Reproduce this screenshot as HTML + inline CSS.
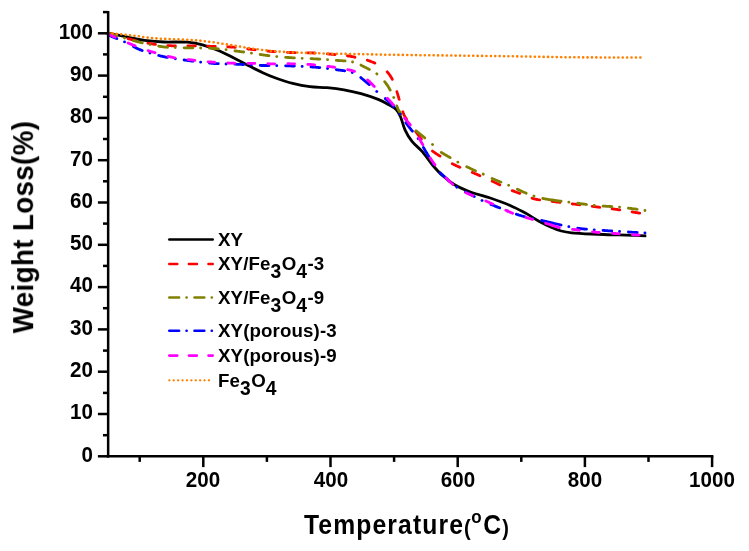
<!DOCTYPE html><html><head><meta charset="utf-8"><title>TGA</title><style>
html,body{margin:0;padding:0;background:#fff;}
body{width:749px;height:551px;position:relative;overflow:hidden;filter:blur(0.45px);font-family:"Liberation Sans",sans-serif;font-weight:bold;color:#000;}
.t{position:absolute;white-space:nowrap;line-height:1;will-change:transform;}
.yl{font-size:20.6px;text-align:right;width:60px;transform:scaleY(1.10);transform-origin:100% 50%;}
.xl{font-size:20.6px;text-align:center;width:80px;transform:scaleY(1.09);transform-origin:50% 50%;}
.lg{font-size:18.7px;letter-spacing:0.12px;}
.lg .sm{}
.lg sub{font-size:19.3px;vertical-align:baseline;position:relative;top:8.3px;letter-spacing:0.4px;}
</style></head><body>
<svg width="749" height="551" viewBox="0 0 749 551" style="position:absolute;left:0;top:0">
<rect width="749" height="551" fill="#fff"/>
<path d="M108.0 33.2C111.7 33.9 123.5 36.2 130.0 37.5C136.5 38.8 141.3 40.0 147.0 40.7C152.7 41.5 157.2 41.8 164.0 42.0C170.8 42.2 181.2 41.7 187.6 42.2C194.0 42.7 197.2 43.4 202.5 44.9C207.8 46.4 213.9 48.6 219.6 51.0C225.3 53.4 231.6 57.0 236.7 59.5C241.8 62.0 245.7 64.1 250.0 66.3C254.3 68.5 258.5 70.8 262.8 72.7C267.1 74.7 270.6 76.2 275.6 78.0C280.6 79.8 287.0 82.0 292.7 83.4C298.4 84.8 304.1 85.9 309.8 86.6C315.5 87.3 321.3 87.2 327.0 87.7C332.7 88.2 338.3 88.8 344.0 89.8C349.7 90.8 355.3 92.1 361.0 93.7C366.7 95.3 373.5 97.6 378.2 99.4C382.9 101.2 386.0 103.1 389.0 104.8C392.0 106.5 394.1 107.4 396.0 109.4C397.9 111.4 399.0 113.3 400.5 116.7C402.0 120.1 403.1 125.7 405.0 129.8C406.9 133.9 409.1 137.8 412.0 141.4C414.9 145.0 418.9 147.7 422.3 151.6C425.7 155.5 429.1 161.0 432.5 165.0C435.9 169.0 438.9 172.5 442.7 175.8C446.4 179.1 450.2 182.2 455.0 185.0C459.8 187.8 465.8 190.3 471.7 192.5C477.6 194.7 483.8 195.8 490.3 198.0C496.8 200.2 504.7 203.1 510.6 205.7C516.5 208.2 521.1 210.8 525.8 213.3C530.4 215.8 534.3 218.6 538.5 220.9C542.7 223.2 547.4 225.5 551.2 227.2C555.0 228.9 557.9 230.1 561.3 231.0C564.7 231.9 566.4 232.3 571.5 232.8C576.6 233.3 585.0 233.7 591.8 234.0C598.5 234.3 605.2 234.6 612.0 234.8C618.8 235.0 626.7 235.1 632.4 235.3C638.1 235.5 644.0 235.7 646.3 235.8" fill="none" stroke="#000000" stroke-width="2.8" stroke-linejoin="round"/>
<path d="M108.0 33.0L108.7 33.2L109.3 33.4L110.0 33.6L110.7 33.8L111.3 34.0L112.0 34.1L112.7 34.3L113.4 34.5L114.1 34.8L114.8 35.0L115.6 35.2L115.6 35.2M128.0 38.7L128.5 38.8L129.3 39.0L130.1 39.2L130.8 39.4L131.5 39.6L132.3 39.8L133.0 40.0L133.8 40.1L134.6 40.3L135.4 40.5L135.6 40.6M147.9 43.2L148.7 43.3L149.4 43.4L150.1 43.6L150.8 43.7L151.5 43.8L152.2 43.9L152.9 44.0L153.7 44.1L154.4 44.3L155.2 44.4L155.5 44.4M167.8 45.6L168.6 45.6L169.4 45.6L170.1 45.7L170.9 45.7L171.6 45.8L172.4 45.8L173.1 45.8L173.9 45.8L174.6 45.9L175.4 45.9L175.4 45.9M187.8 45.8L188.4 45.8L189.2 45.8L189.9 45.8L190.7 45.8L191.4 45.8L192.2 45.8L192.9 45.8L193.7 45.8L194.4 45.8L195.1 45.9L195.4 45.9M207.8 46.2L208.4 46.2L209.2 46.2L209.9 46.3L210.7 46.3L211.5 46.3L212.2 46.3L212.9 46.4L213.7 46.4L214.4 46.4L215.2 46.4L215.3 46.4M227.7 46.8L228.5 46.9L229.2 46.9L229.9 46.9L230.6 47.0L231.3 47.0L232.0 47.1L232.8 47.1L233.6 47.2L234.4 47.3L235.2 47.3L235.3 47.3M247.7 48.9L248.4 49.0L249.2 49.1L250.0 49.2L250.7 49.3L251.4 49.4L252.1 49.4L252.8 49.5L253.5 49.6L254.2 49.7L255.0 49.8L255.2 49.8M267.6 51.1L268.4 51.1L269.1 51.2L269.9 51.3L270.7 51.3L271.4 51.4L272.2 51.5L272.9 51.5L273.7 51.6L274.4 51.6L275.2 51.7L275.2 51.7M287.5 52.4L288.2 52.4L288.9 52.4L289.7 52.5L290.4 52.5L291.2 52.5L291.9 52.6L292.7 52.6L293.5 52.6L294.2 52.6L295.0 52.7L295.1 52.7M307.5 52.8L308.2 52.8L309.0 52.8L309.7 52.9L310.5 52.9L311.2 52.9L312.0 52.9L312.7 52.9L313.5 53.0L314.2 53.0L315.0 53.0L315.1 53.1M327.4 53.9L328.1 53.9L328.8 54.0L329.6 54.1L330.3 54.1L331.0 54.2L331.8 54.3L332.5 54.3L333.2 54.4L333.9 54.4L334.6 54.5L335.0 54.6M347.4 55.9L348.2 56.0L348.9 56.1L349.6 56.2L350.4 56.3L351.1 56.4L351.8 56.6L352.6 56.7L353.3 56.8L354.1 57.0L354.8 57.1L355.0 57.2M367.3 60.2L367.9 60.4L368.6 60.6L369.3 60.8L370.0 61.1L370.7 61.4L371.5 61.7L372.3 62.0L373.0 62.3L373.7 62.6L374.4 62.9L374.9 63.1M387.2 71.8L387.6 72.3L388.1 72.9L388.6 73.5L389.0 74.1L389.5 74.7L389.9 75.3L390.3 75.9L390.7 76.6L391.1 77.2L391.5 77.8L391.9 78.5L392.2 79.1L392.3 79.4M396.9 91.7L397.1 92.4L397.4 93.2L397.6 93.9L397.8 94.6L398.0 95.4L398.2 96.1L398.5 96.9L398.7 97.6L398.9 98.3L399.1 99.1L399.2 99.3M402.8 111.7L403.1 112.5L403.4 113.2L403.7 113.9L404.0 114.7L404.3 115.4L404.7 116.2L405.1 116.9L405.4 117.5L405.8 118.0L406.1 118.6L406.5 119.2L406.6 119.3M415.7 131.6L416.2 132.3L416.7 132.9L417.1 133.5L417.6 134.2L418.1 134.8L418.5 135.4L419.0 136.0L419.4 136.7L419.9 137.3L420.4 137.9L420.8 138.5L421.3 139.2L421.4 139.2M432.4 151.0L432.9 151.4L433.5 151.8L434.1 152.2L434.7 152.7L435.3 153.1L435.9 153.5L436.5 153.9L437.2 154.3L437.8 154.7L438.5 155.1L439.1 155.6L439.8 156.0L440.0 156.1M452.3 163.7L452.9 164.0L453.6 164.4L454.3 164.7L455.0 165.0L455.6 165.4L456.3 165.7L456.9 166.0L457.6 166.3L458.3 166.6L458.9 166.8L459.6 167.1L459.9 167.3M472.3 172.4L473.0 172.7L473.6 173.0L474.3 173.3L475.0 173.6L475.7 173.8L476.3 174.1L477.0 174.4L477.7 174.7L478.4 175.1L479.2 175.4L479.9 175.7L479.9 175.7M492.2 181.2L492.8 181.5L493.5 181.8L494.3 182.1L495.0 182.5L495.7 182.8L496.4 183.2L497.1 183.5L497.8 183.9L498.5 184.2L499.2 184.6L499.8 184.9M512.2 190.6L512.8 190.8L513.6 191.1L514.4 191.4L515.1 191.7L515.9 192.0L516.6 192.3L517.4 192.5L518.1 192.8L518.8 193.1L519.5 193.3L519.8 193.4M532.1 198.2L532.8 198.5L533.6 198.7L534.4 198.9L535.0 199.1L535.7 199.2L536.4 199.4L537.0 199.5L537.6 199.6L538.2 199.7L538.9 199.8L539.6 199.9L539.7 199.9M552.1 201.4L552.3 201.4M552.3 201.4L552.9 201.5L553.7 201.6L554.5 201.7L555.3 201.8L556.0 201.9L556.8 202.0L557.5 202.1L558.3 202.2L559.0 202.2L559.8 202.3L559.9 202.4M572.2 203.9L573.0 204.0L573.8 204.1L574.5 204.2L575.3 204.2L576.0 204.3L576.8 204.4L577.5 204.5L578.3 204.6L579.0 204.7L579.8 204.8L579.8 204.8M592.2 206.3L593.0 206.4L593.8 206.5L594.5 206.6L595.3 206.7L596.0 206.8L596.8 206.9L597.5 207.0L598.3 207.1L599.0 207.2L599.8 207.3L599.8 207.3M612.1 208.8L612.7 208.9L613.5 209.0L614.2 209.1L615.0 209.2L615.7 209.3L616.5 209.4L617.2 209.5L618.0 209.6L618.8 209.8L619.6 209.9L619.8 209.9M632.1 211.9L632.9 212.0L633.6 212.2L634.3 212.3L634.9 212.4L635.6 212.5L636.3 212.6L637.1 212.7L637.9 212.9L638.8 213.0L639.6 213.2L639.7 213.2" fill="none" stroke="#ff0000" stroke-width="2.8" stroke-linejoin="round" stroke-linecap="round"/>
<path d="M108.0 33.0L108.7 33.2L109.2 33.4L109.9 33.6L110.6 33.8L111.4 34.0L112.0 34.2L112.6 34.4L113.3 34.6L113.9 34.8L114.6 35.0L115.4 35.3L116.1 35.5L116.8 35.7M124.5 38.1L124.6 38.1M133.4 40.6L134.2 40.8L134.9 41.0L135.6 41.2L136.3 41.4L137.1 41.6L137.9 41.8L138.6 42.0L139.4 42.2L140.2 42.4L140.9 42.6L141.7 42.7L142.2 42.9M149.9 44.6L150.0 44.6M158.7 46.2L159.4 46.3L160.1 46.4L160.8 46.5L161.5 46.6L162.3 46.7L163.0 46.8L163.8 46.9L164.6 47.0L165.3 47.1L166.1 47.1L166.8 47.2L167.5 47.3M175.2 47.6L175.3 47.6M184.1 47.8L185.0 47.8L185.7 47.8L186.4 47.8L187.1 47.8L187.9 47.9L188.6 47.9L189.3 47.9L190.1 47.9L190.8 47.9L191.6 47.9L192.3 47.9L192.9 47.9M200.6 48.0L200.7 48.0M209.5 48.2L210.2 48.2L211.0 48.3L211.7 48.3L212.5 48.4L213.2 48.4L214.0 48.5L214.8 48.5L215.6 48.6L216.4 48.6L217.2 48.7L218.0 48.8L218.3 48.8M226.0 49.7L226.1 49.7M234.9 50.9L235.5 51.0L236.2 51.0L236.8 51.1L237.4 51.2L238.2 51.3L238.9 51.4L239.7 51.5L240.4 51.6L241.1 51.7L241.9 51.8L242.7 51.9L243.4 52.0L243.7 52.0M251.4 53.2L251.5 53.2M260.2 54.5L260.9 54.6L261.7 54.7L262.5 54.8L263.3 54.9L264.1 55.1L264.9 55.2L265.7 55.3L266.5 55.4L267.3 55.5L268.1 55.6L268.9 55.7L269.0 55.7M276.7 56.6L276.8 56.6M285.6 57.3L286.4 57.4L287.2 57.4L287.9 57.5L288.7 57.5L289.4 57.6L290.2 57.6L290.9 57.7L291.7 57.7L292.4 57.8L293.2 57.8L294.0 57.9L294.4 57.9M302.1 58.3L302.2 58.3M311.0 58.6L311.7 58.7L312.5 58.7L313.2 58.8L314.0 58.8L314.7 58.8L315.5 58.9L316.3 58.9L317.0 59.0L317.8 59.0L318.6 59.1L319.3 59.1L319.8 59.2M327.5 59.7L327.6 59.7M336.3 60.4L337.2 60.4L338.0 60.5L338.8 60.5L339.6 60.6L340.5 60.6L341.2 60.7L342.0 60.7L342.8 60.8L343.6 60.8L344.3 60.9L345.1 60.9L345.1 60.9M352.5 62.0L352.6 62.0M361.0 65.1L361.6 65.5L362.2 65.8L362.9 66.1L363.6 66.5L364.3 66.8L364.9 67.2L365.6 67.5L366.3 67.8L366.9 68.2L367.6 68.5L368.3 68.9L369.0 69.2L369.4 69.4M376.8 73.8L376.9 73.9M384.7 81.7L385.2 82.3L385.6 82.9L386.1 83.5L386.5 84.1L386.9 84.7L387.4 85.3L387.8 85.9L388.2 86.5L388.5 87.2L388.9 87.8L389.3 88.4L389.6 89.1L390.0 89.7L390.2 90.1M393.7 97.4L393.8 97.5M396.8 105.9L397.0 106.6L397.3 107.3L397.6 108.0L397.9 108.7L398.2 109.4L398.5 110.0L398.9 110.7L399.3 111.4L399.7 112.0L400.1 112.7L400.5 113.3L400.9 114.0L401.2 114.4M407.5 122.1L407.6 122.2M416.0 130.7L416.5 131.2L417.1 131.6L417.6 132.1L418.3 132.6L418.9 133.1L419.5 133.6L420.1 134.1L420.7 134.6L421.4 135.1L422.0 135.6L422.6 136.1L423.2 136.6L423.8 137.1L424.3 137.5L424.8 137.9M432.5 144.5L432.6 144.6M441.3 152.4L441.9 152.8L442.6 153.2L443.3 153.6L444.0 154.0L444.7 154.5L445.4 154.9L446.1 155.3L446.8 155.7L447.5 156.1L448.2 156.5L448.8 156.8L449.5 157.2L450.1 157.6L450.1 157.6M457.8 162.2L457.9 162.2M466.7 166.7L467.2 167.0L467.9 167.3L468.6 167.6L469.4 168.0L470.1 168.3L470.8 168.7L471.5 169.0L472.2 169.4L472.9 169.7L473.6 170.0L474.3 170.3L474.9 170.6L475.5 170.9M483.2 174.1L483.3 174.2M492.1 178.5L492.7 178.8L493.3 179.1L494.0 179.3L494.6 179.6L495.3 179.9L496.1 180.2L496.8 180.5L497.5 180.8L498.3 181.1L499.1 181.4L499.8 181.7L500.6 182.0L500.9 182.1M508.6 185.2L508.7 185.3M517.4 189.2L518.1 189.5L518.7 189.9L519.4 190.2L520.1 190.5L520.7 190.8L521.4 191.1L522.0 191.4L522.7 191.7L523.3 192.0L524.0 192.3L524.7 192.5L525.3 192.8L526.0 193.1L526.2 193.2M533.9 195.9L534.0 196.0M542.8 198.4L543.4 198.6L544.1 198.7L544.8 198.8L545.5 199.0L546.2 199.1L546.9 199.2L547.6 199.3L548.3 199.5L549.1 199.6L549.8 199.7L550.5 199.8L551.2 199.9L551.6 199.9M552.3 200.0L553.0 200.1L553.8 200.2L554.6 200.4L555.5 200.5L556.3 200.6L557.0 200.7L557.6 200.8L558.3 200.9L559.0 201.0L559.7 201.1L560.5 201.2L561.1 201.2M568.8 202.2L568.9 202.2M577.7 203.2L578.5 203.4L579.3 203.5L580.0 203.6L580.8 203.7L581.5 203.8L582.3 203.9L583.0 204.0L583.8 204.1L584.5 204.2L585.3 204.3L586.0 204.4L586.5 204.5M594.2 205.4L594.3 205.4M603.0 206.1L603.7 206.2L604.5 206.2L605.3 206.2L606.0 206.3L606.8 206.3L607.6 206.4L608.3 206.4L609.1 206.4L609.9 206.5L610.6 206.5L611.4 206.5L611.8 206.6M619.5 207.1L619.6 207.1M628.4 208.2L629.0 208.2L629.7 208.3L630.5 208.4L631.2 208.5L631.9 208.6L632.5 208.7L633.2 208.8L633.9 208.9L634.5 208.9L635.2 209.0L635.9 209.1L636.5 209.2L637.1 209.3L637.2 209.3M644.9 210.5L645.0 210.5" fill="none" stroke="#808000" stroke-width="2.8" stroke-linejoin="round" stroke-linecap="round"/>
<path d="M108.0 34.5L108.6 35.0L109.1 35.2L110.0 35.7L110.7 36.0L111.3 36.3L112.0 36.6L112.5 36.8L113.1 37.1L113.8 37.3L114.5 37.6L115.2 37.9L115.9 38.2L116.6 38.5L116.8 38.6M124.5 41.9L124.6 41.9M133.4 46.5L134.1 46.9L134.8 47.2L135.4 47.6L136.1 47.9L136.8 48.3L137.5 48.6L138.3 48.9L139.0 49.3L139.8 49.6L140.6 49.9L141.2 50.1L141.9 50.4L142.2 50.5M149.9 53.1L150.0 53.1M158.7 55.5L159.5 55.7L160.2 55.9L161.0 56.1L161.7 56.2L162.5 56.4L163.2 56.6L163.9 56.7L164.6 56.9L165.3 57.0L166.0 57.2L166.7 57.3L167.5 57.4L167.5 57.4M175.2 58.7L175.3 58.8M184.1 60.0L185.0 60.1L185.7 60.2L186.4 60.3L187.1 60.4L187.8 60.5L188.6 60.6L189.3 60.7L190.0 60.8L190.7 60.9L191.5 61.0L192.2 61.1L192.9 61.2M200.6 62.2L200.7 62.2M209.5 63.1L210.2 63.2L210.9 63.2L211.7 63.3L212.4 63.3L213.2 63.4L214.0 63.5L214.7 63.5L215.5 63.6L216.2 63.6L217.0 63.6L217.8 63.7L218.3 63.7M226.0 64.0L226.1 64.0M234.8 64.2L235.6 64.2L236.3 64.2L237.0 64.3L237.7 64.3L238.4 64.3L239.0 64.3L239.7 64.3L240.4 64.4L241.0 64.4L241.6 64.4L242.2 64.5L243.1 64.5L243.6 64.5M251.3 64.9L251.4 64.9M260.2 65.4L261.0 65.4L261.8 65.5L262.6 65.5L263.3 65.5L264.0 65.5L264.6 65.5L265.2 65.5L265.9 65.5L266.5 65.5L267.1 65.5L267.8 65.6L268.6 65.6L269.0 65.6M276.7 65.7L276.8 65.7M285.6 65.8L286.4 65.8L287.2 65.8L288.0 65.9L288.8 65.9L289.6 65.9L290.4 65.9L291.2 65.9L291.9 66.0L292.7 66.0L293.5 66.0L294.2 66.1L294.4 66.1M302.1 66.4L302.2 66.4M311.0 66.9L311.7 66.9L312.5 67.0L313.2 67.0L314.0 67.1L314.7 67.2L315.5 67.2L316.3 67.3L317.0 67.4L317.8 67.4L318.6 67.5L319.3 67.6L319.8 67.6M327.5 68.5L327.6 68.5M336.3 69.7L336.9 69.8L337.7 69.9L338.5 70.0L339.3 70.1L340.1 70.2L340.9 70.3L341.7 70.4L342.5 70.5L343.2 70.6L344.0 70.7L344.7 70.8L344.8 70.8M352.2 72.6L352.3 72.6M360.8 77.6L361.3 78.1L361.9 78.5L362.5 79.0L363.1 79.5L363.7 79.9L364.2 80.4L364.8 80.8L365.4 81.3L366.0 81.8L366.6 82.3L367.2 82.8L367.8 83.3L368.4 83.8L368.9 84.3L369.3 84.6M376.7 91.5L376.8 91.6M385.3 98.6L385.8 99.0L386.3 99.5L386.8 100.0L387.4 100.5L387.9 100.9L388.4 101.4L389.0 101.9L389.5 102.5L390.0 103.0L390.6 103.5L391.1 104.0L391.7 104.6L392.2 105.1L392.8 105.7L393.4 106.2L393.8 106.7M400.1 114.1L400.1 114.2M405.9 122.7L406.4 123.4L406.8 124.0L407.2 124.6L407.7 125.2L408.1 125.8L408.6 126.4L409.0 127.0L409.5 127.6L410.0 128.2L410.5 128.8L410.9 129.4L411.4 130.0L411.9 130.6L412.4 131.2L412.4 131.2M418.1 138.6L418.1 138.7M423.4 147.4L423.8 148.1L424.2 148.7L424.6 149.4L424.9 150.1L425.3 150.7L425.7 151.4L426.1 152.1L426.6 152.8L427.0 153.4L427.3 154.0L427.7 154.7L428.1 155.3L428.5 156.0L428.7 156.2M433.4 163.9L433.5 164.0M440.2 172.8L440.7 173.2L441.2 173.7L441.7 174.2L442.2 174.7L442.7 175.1L443.2 175.6L443.8 176.0L444.3 176.5L444.8 177.0L445.4 177.5L446.0 178.0L446.5 178.5L447.0 179.0L447.6 179.5L448.1 180.1L448.7 180.6L449.0 180.9M456.7 187.1L456.8 187.2M465.5 192.0L466.1 192.3L466.8 192.7L467.6 193.1L468.3 193.4L469.0 193.8L469.6 194.1L470.2 194.5L470.9 194.8L471.5 195.1L472.2 195.5L472.9 195.8L473.5 196.2L474.2 196.5L474.3 196.6M482.0 200.4L482.1 200.5M490.9 204.4L491.6 204.7L492.3 205.0L493.0 205.2L493.7 205.5L494.4 205.8L495.1 206.1L495.8 206.4L496.4 206.6L497.1 206.9L497.8 207.2L498.5 207.5L499.2 207.7L499.7 207.9M507.4 211.0L507.5 211.0M516.3 214.2L516.9 214.4L517.7 214.6L518.4 214.9L519.1 215.1L519.9 215.3L520.6 215.5L521.4 215.8L522.1 216.0L522.8 216.2L523.6 216.4L524.3 216.6L525.1 216.8L525.1 216.8M532.8 218.7L532.9 218.8M541.7 220.5L542.4 220.6L543.1 220.8L543.8 221.0L544.6 221.1L545.3 221.3L546.0 221.4L546.7 221.6L547.4 221.8L548.1 222.0L548.8 222.1L549.6 222.3L550.3 222.5L550.5 222.5M552.3 223.0L552.9 223.1L553.7 223.3L554.5 223.5L555.2 223.7L556.0 223.8L556.8 224.0L557.4 224.2L558.2 224.3L558.9 224.5L559.6 224.7L560.4 224.8L561.1 225.0M568.8 226.7L568.9 226.7M577.7 228.2L578.3 228.3L579.0 228.4L579.7 228.5L580.5 228.6L581.3 228.7L582.1 228.8L583.0 228.9L583.6 228.9L584.2 229.0L584.8 229.1L585.5 229.1L586.1 229.2L586.5 229.2M594.2 229.8L594.3 229.8M603.0 230.4L603.6 230.4L604.4 230.5L605.1 230.6L605.9 230.6L606.6 230.7L607.4 230.7L608.1 230.8L608.9 230.8L609.6 230.9L610.4 230.9L611.1 231.0L611.8 231.0M619.5 231.5L619.6 231.5M628.4 232.0L629.2 232.1L630.1 232.1L630.9 232.2L631.8 232.2L632.7 232.3L633.6 232.3L634.5 232.4L635.3 232.4L636.2 232.4L637.1 232.5L637.2 232.5M644.9 232.9L645.0 232.9" fill="none" stroke="#0000ff" stroke-width="2.8" stroke-linejoin="round" stroke-linecap="round"/>
<path d="M108.3 34.1L108.9 34.4L109.5 34.7L110.2 35.0L110.8 35.3L111.4 35.5L112.0 35.8L112.6 36.1L113.3 36.4L114.0 36.7L114.7 37.0L115.1 37.2M128.2 43.0L128.8 43.3L129.5 43.6L130.2 43.9L130.9 44.2L131.6 44.4L132.3 44.7L133.0 45.0L133.8 45.3L134.6 45.6L135.1 45.8M148.2 50.6L148.9 50.8L149.6 51.1L150.3 51.3L151.1 51.5L151.8 51.7L152.5 52.0L153.2 52.2L153.9 52.4L154.6 52.6L155.0 52.7M168.1 56.4L168.8 56.6L169.5 56.7L170.3 56.9L171.0 57.0L171.7 57.2L172.4 57.4L173.1 57.5L173.9 57.7L174.7 57.8L174.9 57.9M188.1 59.6L188.9 59.7L189.7 59.7L190.4 59.8L191.2 59.9L191.9 60.0L192.7 60.1L193.4 60.2L194.2 60.3L194.9 60.4M208.1 61.8L208.9 61.8L209.7 61.9L210.5 62.0L211.2 62.0L211.9 62.1L212.7 62.1L213.4 62.2L214.1 62.2L214.8 62.3M228.0 63.0L228.7 63.1L229.5 63.1L230.2 63.1L231.0 63.1L231.8 63.2L232.5 63.2L233.3 63.2L234.0 63.2L234.8 63.3L234.8 63.3M248.0 63.4L248.6 63.4L249.3 63.4L250.0 63.4L250.7 63.4L251.5 63.4L252.2 63.4L252.9 63.4L253.6 63.4L254.4 63.4L254.8 63.4M267.9 63.7L268.7 63.8L269.5 63.8L270.3 63.8L271.1 63.8L271.9 63.8L272.6 63.8L273.3 63.8L274.0 63.8L274.7 63.8L274.7 63.8M287.9 63.7L288.6 63.7L289.4 63.7L290.2 63.8L290.9 63.8L291.7 63.8L292.4 63.8L293.2 63.8L294.0 63.8L294.6 63.8M307.8 64.4L308.5 64.4L309.2 64.4L310.0 64.5L310.7 64.5L311.5 64.6L312.2 64.7L313.0 64.7L313.7 64.8L314.5 64.8L314.6 64.9M327.8 66.3L328.6 66.4L329.3 66.5L330.1 66.6L330.8 66.7L331.5 66.8L332.2 66.9L333.0 67.0L333.7 67.1L334.4 67.2L334.6 67.3M347.7 69.6L348.5 69.8L349.2 69.9L349.8 70.1L350.5 70.2L351.1 70.4L351.7 70.5L352.4 70.7L353.3 71.0L353.9 71.2L354.5 71.4M367.6 79.9L368.2 80.3L368.7 80.8L369.2 81.2L369.7 81.7L370.1 82.2L370.6 82.7L371.1 83.2L371.6 83.7L372.1 84.3L372.6 84.8L373.2 85.4L373.8 86.0L374.3 86.5M387.4 98.2L387.9 98.7L388.3 99.2L388.8 99.7L389.3 100.2L389.8 100.8L390.3 101.4L390.8 102.0L391.3 102.5L391.9 103.2L392.4 103.8L392.9 104.4L393.5 105.0M404.6 118.1L405.1 118.8L405.6 119.3L406.1 119.9L406.5 120.4L407.0 120.9L407.4 121.4L407.8 121.9L408.2 122.4L408.7 122.9L409.1 123.4L409.5 124.0L410.0 124.6L410.3 124.9M418.9 138.1L419.3 138.7L419.7 139.3L420.1 140.0L420.4 140.6L420.8 141.3L421.2 141.9L421.5 142.5L421.9 143.2L422.2 143.8L422.6 144.4L422.9 144.9M430.3 158.0L430.7 158.8L431.1 159.4L431.6 160.1L432.0 160.7L432.5 161.4L433.0 162.1L433.4 162.8L433.9 163.4L434.3 163.9L434.7 164.5L434.9 164.8M446.0 178.0L446.6 178.6L447.1 179.1L447.7 179.7L448.3 180.2L448.8 180.8L449.4 181.3L450.0 181.9L450.6 182.4L451.2 183.0L451.8 183.5L452.4 184.0L452.8 184.4M465.9 192.7L466.6 193.0L467.2 193.3L467.9 193.6L468.6 193.8L469.3 194.1L469.9 194.4L470.6 194.7L471.3 195.0L471.9 195.3L472.7 195.6L472.7 195.7M485.9 200.9L486.5 201.2L487.2 201.5L487.8 201.8L488.5 202.1L489.2 202.4L489.8 202.7L490.5 203.0L491.2 203.4L491.9 203.7L492.6 204.0L492.7 204.1M505.8 210.2L506.4 210.5L507.1 210.8L507.8 211.2L508.5 211.5L509.2 211.8L509.9 212.1L510.6 212.4L511.3 212.7L512.0 213.0L512.6 213.3M525.8 217.5L526.6 217.7L527.3 217.9L528.0 218.1L528.7 218.3L529.5 218.5L530.2 218.7L530.9 218.9L531.6 219.1L532.3 219.3L532.6 219.4M545.7 223.3L546.5 223.5L547.2 223.8L547.9 224.0L548.7 224.2L549.4 224.5L550.1 224.7L550.8 224.9L551.6 225.2L552.3 225.4M552.6 225.5L553.3 225.8L554.0 226.0L554.7 226.2L555.5 226.4L556.2 226.7L556.9 226.9L557.7 227.1L558.4 227.3L559.1 227.5L559.4 227.6M572.5 229.4L573.2 229.4L574.0 229.5L574.8 229.6L575.6 229.7L576.5 229.8L577.2 229.9L577.8 230.0L578.5 230.1L579.2 230.1L579.3 230.2M592.5 231.8L593.2 231.9L594.0 232.0L594.8 232.1L595.5 232.2L596.3 232.3L597.1 232.3L597.8 232.4L598.6 232.5L599.3 232.5M612.4 233.3L613.2 233.4L614.0 233.4L614.7 233.5L615.5 233.5L616.2 233.6L617.0 233.6L617.8 233.7L618.5 233.7L619.2 233.8M632.4 234.7L633.2 234.7L633.9 234.8L634.6 234.8L635.2 234.9L635.9 234.9L636.5 234.9L637.2 235.0L637.8 235.0L638.6 235.1L639.2 235.1" fill="none" stroke="#ff00ff" stroke-width="2.8" stroke-linejoin="round" stroke-linecap="round"/>
<path d="M108.0 33.0L108.1 33.0M112.4 33.4L112.5 33.4M116.8 33.8L116.9 33.9M121.2 34.3L121.3 34.3M125.6 34.7L125.7 34.7M130.0 35.2L130.1 35.2M134.4 35.7L134.5 35.7M138.8 36.3L138.9 36.3M143.2 37.0L143.3 37.0M147.6 37.6L147.7 37.6M152.0 38.1L152.1 38.1M156.4 38.4L156.5 38.4M160.8 38.7L160.9 38.7M165.2 38.9L165.3 38.9M169.6 39.0L169.7 39.0M174.0 39.2L174.1 39.2M178.4 39.4L178.5 39.4M182.8 39.6L182.9 39.6M187.2 39.8L187.3 39.8M191.6 40.1L191.7 40.1M196.0 40.4L196.1 40.4M200.4 40.7L200.5 40.8M204.8 41.2L204.9 41.2M209.2 41.7L209.3 41.7M213.6 42.3L213.7 42.3M218.0 43.0L218.1 43.0M222.4 43.7L222.5 43.7M226.8 44.4L226.9 44.4M231.2 45.1L231.3 45.1M235.6 45.9L235.7 45.9M240.0 46.6L240.1 46.6M244.4 47.3L244.5 47.4M248.8 48.0L248.9 48.0M253.2 48.7L253.3 48.7M257.6 49.3L257.7 49.3M262.0 49.8L262.1 49.9M266.4 50.4L266.5 50.4M270.8 50.8L270.9 50.9M275.2 51.3L275.3 51.3M279.6 51.6L279.7 51.6M284.0 51.9L284.1 51.9M288.4 52.2L288.5 52.2M292.8 52.4L292.9 52.4M297.2 52.6L297.3 52.6M301.6 52.8L301.7 52.8M306.0 52.9L306.1 52.9M310.4 53.1L310.5 53.1M314.8 53.2L314.9 53.2M319.2 53.3L319.3 53.3M323.6 53.5L323.7 53.5M328.0 53.6L328.1 53.6M332.4 53.7L332.5 53.7M336.8 53.8L336.9 53.8M341.2 53.8L341.3 53.8M345.6 53.9L345.7 53.9M350.0 54.0L350.1 54.0M354.4 54.1L354.5 54.1M358.8 54.1L358.9 54.1M363.2 54.2L363.3 54.2M367.6 54.3L367.7 54.3M372.0 54.4L372.1 54.4M376.4 54.5L376.5 54.5M380.8 54.6L380.9 54.6M385.2 54.7L385.3 54.7M389.6 54.7L389.7 54.7M394.0 54.8L394.1 54.8M398.4 54.9L398.5 54.9M402.8 54.9L402.9 54.9M407.2 55.0L407.3 55.0M411.6 55.1L411.7 55.1M416.0 55.1L416.1 55.1M420.4 55.2L420.5 55.2M424.8 55.2L424.9 55.2M429.2 55.3L429.3 55.3M433.6 55.3L433.7 55.3M438.0 55.4L438.1 55.4M442.4 55.4L442.5 55.4M446.8 55.5L446.9 55.5M451.2 55.5L451.3 55.5M455.6 55.6L455.7 55.6M460.0 55.6L460.1 55.6M464.4 55.7L464.5 55.7M468.8 55.8L468.9 55.8M473.2 55.8L473.3 55.8M477.6 55.9L477.7 55.9M482.0 55.9L482.1 55.9M486.4 56.0L486.5 56.0M490.8 56.0L490.9 56.0M495.2 56.1L495.3 56.1M499.6 56.1L499.7 56.1M504.0 56.2L504.1 56.2M508.4 56.3L508.5 56.3M512.8 56.3L512.9 56.3M517.2 56.4L517.3 56.4M521.6 56.5L521.7 56.5M526.0 56.5L526.1 56.5M530.4 56.6L530.5 56.6M534.8 56.7L534.9 56.7M539.2 56.8L539.3 56.8M543.6 56.9L543.7 56.9M548.0 56.9L548.1 56.9M552.3 57.0L552.4 57.0M556.7 57.1L556.8 57.1M561.1 57.1L561.2 57.2M565.5 57.2L565.6 57.2M569.9 57.3L570.0 57.3M574.3 57.3L574.4 57.3M578.7 57.3L578.8 57.3M583.1 57.4L583.2 57.4M587.5 57.4L587.6 57.4M591.9 57.4L592.0 57.4M596.3 57.4L596.4 57.4M600.7 57.5L600.8 57.5M605.1 57.5L605.2 57.5M609.5 57.5L609.6 57.5M613.9 57.5L614.0 57.5M618.3 57.5L618.4 57.5M622.7 57.5L622.8 57.5M627.1 57.5L627.2 57.5M631.5 57.5L631.6 57.5M635.9 57.5L636.0 57.5M640.3 57.5L640.4 57.5" fill="none" stroke="#ff8000" stroke-width="2.6" stroke-linejoin="round" stroke-linecap="round"/>
<g stroke="#000" stroke-width="2.5" fill="none" stroke-linecap="butt">
<path d="M108.15 10.9V457.6"/>
<path d="M106.9 456.3H713.4"/>
<path d="M97.9 456.3H108.15"/>
<path d="M97.9 414.0H108.15"/>
<path d="M97.9 371.7H108.15"/>
<path d="M97.9 329.4H108.15"/>
<path d="M97.9 287.1H108.15"/>
<path d="M97.9 244.8H108.15"/>
<path d="M97.9 202.5H108.15"/>
<path d="M97.9 160.2H108.15"/>
<path d="M97.9 117.9H108.15"/>
<path d="M97.9 75.6H108.15"/>
<path d="M97.9 33.3H108.15"/>
<path d="M103.0 435.2H108.15"/>
<path d="M103.0 392.9H108.15"/>
<path d="M103.0 350.6H108.15"/>
<path d="M103.0 308.2H108.15"/>
<path d="M103.0 265.9H108.15"/>
<path d="M103.0 223.6H108.15"/>
<path d="M103.0 181.3H108.15"/>
<path d="M103.0 139.0H108.15"/>
<path d="M103.0 96.8H108.15"/>
<path d="M103.0 54.4H108.15"/>
<path d="M103.0 12.1H108.15"/>
<path d="M203.3 456.3V467.1"/>
<path d="M330.5 456.3V467.1"/>
<path d="M457.7 456.3V467.1"/>
<path d="M584.9 456.3V467.1"/>
<path d="M712.1 456.3V467.1"/>
<path d="M139.7 456.3V461.9"/>
<path d="M266.9 456.3V461.9"/>
<path d="M394.1 456.3V461.9"/>
<path d="M521.3 456.3V461.9"/>
<path d="M648.5 456.3V461.9"/>
</g>
<path d="M169.3 239.5H212.7" stroke="#000000" stroke-width="2.6" fill="none" stroke-linecap="round"/>
<path d="M169.3 264.0H212.7" stroke="#ff0000" stroke-width="2.6" fill="none" stroke-linecap="round" stroke-dasharray="8 11.6"/>
<path d="M169.3 297.5H212.7" stroke="#808000" stroke-width="2.6" fill="none" stroke-linecap="round" stroke-dasharray="9.8 7.45 0.1 7.85"/>
<path d="M169.3 330.8H212.7" stroke="#0000ff" stroke-width="2.6" fill="none" stroke-linecap="round" stroke-dasharray="9.8 7.45 0.1 7.85"/>
<path d="M169.3 355.6H212.7" stroke="#ff00ff" stroke-width="2.6" fill="none" stroke-linecap="round" stroke-dasharray="8 11.6"/>
<path d="M169.3 380.3H209.2" stroke="#ff8000" stroke-width="2.3" fill="none" stroke-linecap="round" stroke-dasharray="0.1 4.3"/>
</svg>
<div class="t yl" style="left:32.7px;top:443.6px">0</div>
<div class="t yl" style="left:32.7px;top:401.3px">10</div>
<div class="t yl" style="left:32.7px;top:359.0px">20</div>
<div class="t yl" style="left:32.7px;top:316.7px">30</div>
<div class="t yl" style="left:32.7px;top:274.4px">40</div>
<div class="t yl" style="left:32.7px;top:232.1px">50</div>
<div class="t yl" style="left:32.7px;top:189.8px">60</div>
<div class="t yl" style="left:32.7px;top:147.5px">70</div>
<div class="t yl" style="left:32.7px;top:105.2px">80</div>
<div class="t yl" style="left:32.7px;top:62.9px">90</div>
<div class="t yl" style="left:32.7px;top:20.6px">100</div>
<div class="t xl" style="left:163.3px;top:469.4px">200</div>
<div class="t xl" style="left:290.5px;top:469.4px">400</div>
<div class="t xl" style="left:417.7px;top:469.4px">600</div>
<div class="t xl" style="left:544.9px;top:469.4px">800</div>
<div class="t xl" style="left:672.1px;top:469.4px">1000</div>
<div class="t" id="xt" style="left:303.8px;top:513.3px;font-size:24.7px;letter-spacing:1.12px;transform:scaleY(1.12);transform-origin:50% 50%">Temperature<span style="font-size:20px;position:relative;top:0.6px;letter-spacing:0.6px">(</span><span style="font-size:17px;position:relative;top:-10.2px;letter-spacing:1.5px">o</span>C<span style="font-size:20px;position:relative;top:0.6px">)</span></div>
<div class="t" id="yt" style="left:23.2px;top:227.0px;font-size:27.8px;letter-spacing:0.33px;transform:translate(-50%,-50%) scaleX(1.06) rotate(-90deg);transform-origin:50% 50%">Weight Loss(%)</div>
<div class="t lg" style="left:217.9px;top:230.5px">XY</div>
<div class="t lg" style="left:217.9px;top:254.3px">XY/Fe<sub>3</sub>O<sub>4</sub><span class="sm">-3</span></div>
<div class="t lg" style="left:217.9px;top:287.9px">XY/Fe<sub>3</sub>O<sub>4</sub><span class="sm">-9</span></div>
<div class="t lg" style="left:217.9px;top:322.3px">XY(porous)-3</div>
<div class="t lg" style="left:217.9px;top:347.2px">XY(porous)-9</div>
<div class="t lg" style="left:218.3px;top:370.9px">Fe<sub>3</sub>O<sub>4</sub></div>
</body></html>
